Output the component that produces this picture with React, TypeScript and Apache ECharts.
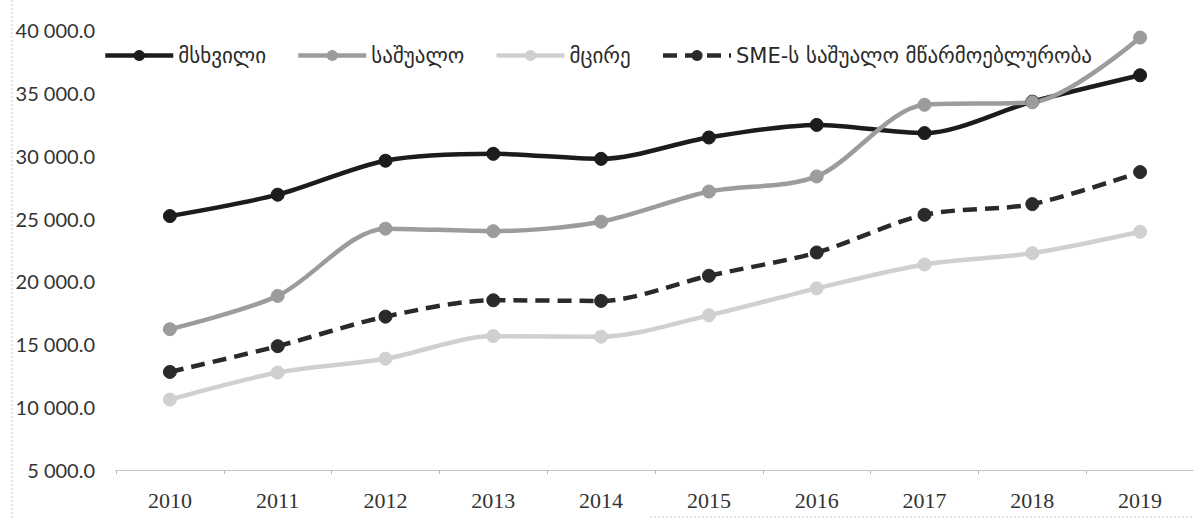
import React, { useEffect, useRef } from "react";
import * as echarts from "echarts";

const years = ["2010", "2011", "2012", "2013", "2014", "2015", "2016", "2017", "2018", "2019"];
const large = [25200, 26900, 29600, 30150, 29750, 31450, 32450, 31800, 34300, 36400];
const medium = [16200, 18850, 24200, 24000, 24750, 27150, 28350, 34050, 34250, 39400];
const small = [10600, 12750, 13850, 15650, 15600, 17300, 19450, 21350, 22250, 23950];
const sme = [12800, 14850, 17200, 18500, 18450, 20450, 22300, 25300, 26150, 28700];
const seriesNames = ["მსხვილი", "საშუალო", "მცირე", "SME-ს საშუალო მწარმოებლურობა"];

function fmt(v: number): string {
  const s = v.toFixed(1);
  const [i, d] = s.split(".");
  return i.replace(/\B(?=(\d{3})+(?!\d))/g, " ") + "." + d;
}

export default function App() {
  const ref = useRef<HTMLDivElement>(null);
  useEffect(() => {
    if (!ref.current) return;
    const chart = echarts.init(ref.current, null, { renderer: "svg" });
    const mk = (name: string, data: number[], color: string, dashed: boolean) => ({
      name,
      type: "line",
      data,
      smooth: 0.3,
      symbol: "circle",
      symbolSize: 13,
      showSymbol: true,
      lineStyle: { color, width: 4.5, type: dashed ? [14, 8] : "solid" },
      itemStyle: { color, borderColor: color },
      z: 2,
    });
    chart.setOption({
      animation: false,
      backgroundColor: "#ffffff",
      grid: { left: 116, right: 0, top: 30, bottom: 50 },
      legend: {
        top: 40,
        left: 98,
        itemWidth: 68,
        itemHeight: 14,
        itemGap: 30,
        lineStyle: { width: 4.5 },
        textStyle: { fontFamily: "DejaVu Sans", fontSize: 21, color: "#2a2a2a" },
        data: seriesNames,
      },
      xAxis: {
        type: "category",
        data: years,
        boundaryGap: true,
        axisLine: { show: true, lineStyle: { color: "#b8b8b8", width: 1, type: "dotted" } },
        axisTick: { show: true, length: 4, lineStyle: { color: "#b8b8b8" } },
        axisLabel: {
          margin: 19,
          fontFamily: "Liberation Serif",
          fontSize: 22,
          color: "#333",
        },
        splitLine: { show: false },
      },
      yAxis: {
        type: "value",
        min: 5000,
        max: 40000,
        interval: 5000,
        axisLine: { show: false },
        axisTick: { show: false },
        splitLine: { show: false },
        axisLabel: {
          margin: 21,
          fontFamily: "Lato",
          fontSize: 20,
          color: "#333",
          formatter: (v: number) => fmt(v),
        },
      },
      graphic: [
        {
          type: "line",
          shape: { x1: 12, y1: 0, x2: 12, y2: 520 },
          style: { stroke: "#c8c8c8", lineWidth: 1, lineDash: [2, 2] },
        },
        {
          type: "line",
          shape: { x1: 650, y1: 517, x2: 1194, y2: 517 },
          style: { stroke: "#d0d0d0", lineWidth: 1, lineDash: [2, 2] },
        },
      ],
      series: [
        mk(seriesNames[0], large, "#1c1c1c", false),
        mk(seriesNames[1], medium, "#9c9c9c", false),
        mk(seriesNames[2], small, "#d0d0d0", false),
        mk(seriesNames[3], sme, "#2a2a2a", true),
      ],
    });
    return () => chart.dispose();
  }, []);
  return (
    <div
      ref={ref}
      style={{ position: "fixed", left: 0, top: 0, width: 1194, height: 520 }}
    />
  );
}
